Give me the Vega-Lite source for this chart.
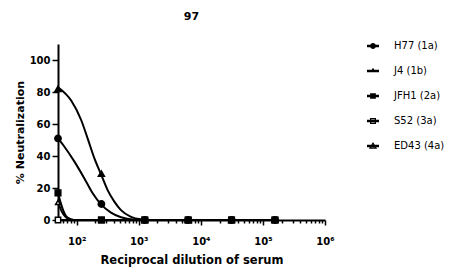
{
  "$schema": "https://vega.github.io/schema/vega-lite/v6.json",
  "autosize": {"type": "none"},
  "padding": {"left": 58, "top": 44, "right": 142, "bottom": 51},
  "width": 267,
  "height": 176,
  "title": {"text": "97", "font": "DejaVu Sans", "fontSize": 11, "fontWeight": "bold", "color": "#000", "anchor": "middle", "offset": 19},
  "config": {"view": {"stroke": null}, "font": "DejaVu Sans"},
  "datasets": {
    "curves": [
      {"series": "H77 (1a)", "dilution": 50, "value": 51},
      {"series": "H77 (1a)", "dilution": 63.5, "value": 45.8},
      {"series": "H77 (1a)", "dilution": 92, "value": 36.5},
      {"series": "H77 (1a)", "dilution": 133, "value": 26},
      {"series": "H77 (1a)", "dilution": 181, "value": 16.7},
      {"series": "H77 (1a)", "dilution": 247, "value": 9.8},
      {"series": "H77 (1a)", "dilution": 357, "value": 4.6},
      {"series": "H77 (1a)", "dilution": 517, "value": 1.7},
      {"series": "H77 (1a)", "dilution": 845, "value": 0.2},
      {"series": "H77 (1a)", "dilution": 1250, "value": 0},
      {"series": "H77 (1a)", "dilution": 156250, "value": 0},
      {"series": "J4 (1b)", "dilution": 50, "value": 83},
      {"series": "J4 (1b)", "dilution": 82, "value": 74.5},
      {"series": "J4 (1b)", "dilution": 118, "value": 62.5},
      {"series": "J4 (1b)", "dilution": 150, "value": 51},
      {"series": "J4 (1b)", "dilution": 193, "value": 38.5},
      {"series": "J4 (1b)", "dilution": 247, "value": 28.5},
      {"series": "J4 (1b)", "dilution": 315, "value": 18.7},
      {"series": "J4 (1b)", "dilution": 404, "value": 11.5},
      {"series": "J4 (1b)", "dilution": 517, "value": 6.2},
      {"series": "J4 (1b)", "dilution": 748, "value": 2},
      {"series": "J4 (1b)", "dilution": 1082, "value": 0.4},
      {"series": "J4 (1b)", "dilution": 1500, "value": 0},
      {"series": "J4 (1b)", "dilution": 156250, "value": 0},
      {"series": "JFH1 (2a)", "dilution": 50, "value": 17},
      {"series": "JFH1 (2a)", "dilution": 55, "value": 11},
      {"series": "JFH1 (2a)", "dilution": 60, "value": 6.5},
      {"series": "JFH1 (2a)", "dilution": 66, "value": 3},
      {"series": "JFH1 (2a)", "dilution": 75, "value": 1},
      {"series": "JFH1 (2a)", "dilution": 90, "value": 0},
      {"series": "JFH1 (2a)", "dilution": 156250, "value": 0},
      {"series": "ED43 (4a)", "dilution": 50, "value": 11},
      {"series": "ED43 (4a)", "dilution": 55, "value": 7},
      {"series": "ED43 (4a)", "dilution": 60, "value": 4},
      {"series": "ED43 (4a)", "dilution": 66, "value": 2},
      {"series": "ED43 (4a)", "dilution": 75, "value": 0.5},
      {"series": "ED43 (4a)", "dilution": 90, "value": 0},
      {"series": "ED43 (4a)", "dilution": 156250, "value": 0},
      {"series": "S52 (3a)", "dilution": 50, "value": 0},
      {"series": "S52 (3a)", "dilution": 156250, "value": 0}
    ],
    "points": [
      {"series": "S52 (3a)", "dilution": 50, "value": 0},
      {"series": "S52 (3a)", "dilution": 250, "value": 0},
      {"series": "S52 (3a)", "dilution": 1250, "value": 0},
      {"series": "S52 (3a)", "dilution": 6250, "value": 0},
      {"series": "S52 (3a)", "dilution": 31250, "value": 0},
      {"series": "S52 (3a)", "dilution": 156250, "value": 0},
      {"series": "ED43 (4a)", "dilution": 50, "value": 11},
      {"series": "ED43 (4a)", "dilution": 250, "value": 0},
      {"series": "ED43 (4a)", "dilution": 1250, "value": 0},
      {"series": "ED43 (4a)", "dilution": 6250, "value": 0},
      {"series": "ED43 (4a)", "dilution": 31250, "value": 0},
      {"series": "ED43 (4a)", "dilution": 156250, "value": 0},
      {"series": "H77 (1a)", "dilution": 50, "value": 51},
      {"series": "H77 (1a)", "dilution": 250, "value": 10},
      {"series": "H77 (1a)", "dilution": 1250, "value": 0},
      {"series": "H77 (1a)", "dilution": 6250, "value": 0},
      {"series": "H77 (1a)", "dilution": 31250, "value": 0},
      {"series": "H77 (1a)", "dilution": 156250, "value": 0},
      {"series": "J4 (1b)", "dilution": 50, "value": 82},
      {"series": "J4 (1b)", "dilution": 250, "value": 29},
      {"series": "J4 (1b)", "dilution": 1250, "value": 0},
      {"series": "J4 (1b)", "dilution": 6250, "value": 0},
      {"series": "J4 (1b)", "dilution": 31250, "value": 0},
      {"series": "J4 (1b)", "dilution": 156250, "value": 0},
      {"series": "JFH1 (2a)", "dilution": 50, "value": 17},
      {"series": "JFH1 (2a)", "dilution": 250, "value": 0},
      {"series": "JFH1 (2a)", "dilution": 1250, "value": 0},
      {"series": "JFH1 (2a)", "dilution": 6250, "value": 0},
      {"series": "JFH1 (2a)", "dilution": 31250, "value": 0},
      {"series": "JFH1 (2a)", "dilution": 156250, "value": 0}
    ]
  },
  "encoding": {
    "x": {
      "field": "dilution", "type": "quantitative",
      "scale": {"type": "log", "domain": [50, 1000000], "nice": false},
      "axis": {
        "title": "Reciprocal dilution of serum",
        "titleFont": "DejaVu Sans", "titleFontSize": 11.5, "titleFontWeight": "bold", "titleColor": "#000", "titlePadding": 8,
        "values": [60, 70, 80, 90, 100, 200, 300, 400, 500, 600, 700, 800, 900, 1000, 2000, 3000, 4000, 5000, 6000, 7000, 8000, 9000, 10000, 20000, 30000, 40000, 50000, 60000, 70000, 80000, 90000, 100000, 200000, 300000, 400000, 500000, 600000, 700000, 800000, 900000, 1000000],
        "labelExpr": "datum.value == 100 ? '10²' : datum.value == 1000 ? '10³' : datum.value == 10000 ? '10⁴' : datum.value == 100000 ? '10⁵' : datum.value == 1000000 ? '10⁶' : ''",
        "labelOverlap": false, "labelFlush": false,
        "labelFont": "DejaVu Sans", "labelFontSize": 10, "labelFontWeight": "bold", "labelColor": "#000", "labelPadding": 11,
        "tickSize": {"condition": {"test": "indexof([100,1000,10000,100000,1000000], datum.value) >= 0", "value": 5}, "value": 3},
        "tickColor": "#000", "tickWidth": 1.5, "domainColor": "#000", "domainWidth": 2, "grid": false
      }
    },
    "y": {
      "field": "value", "type": "quantitative",
      "scale": {"domain": [0, 110], "nice": false},
      "axis": {
        "title": "% Neutralization",
        "titleFont": "DejaVu Sans", "titleFontSize": 11, "titleFontWeight": "bold", "titleColor": "#000", "titlePadding": 4,
        "values": [0, 20, 40, 60, 80, 100],
        "labelFont": "DejaVu Sans", "labelFontSize": 10, "labelFontWeight": "bold", "labelColor": "#000", "labelPadding": 2,
        "tickSize": 6, "tickColor": "#000", "tickWidth": 1.5, "domainColor": "#000", "domainWidth": 2, "grid": false
      }
    }
  },
  "layer": [
    {
      "data": {"name": "curves"},
      "mark": {"type": "line", "color": "#000", "strokeWidth": 2, "interpolate": "monotone"},
      "encoding": {"detail": {"field": "series"}}
    },
    {
      "data": {"name": "points"},
      "mark": {"type": "point", "filled": false, "strokeWidth": 1.5, "stroke": "#000", "opacity": 1},
      "encoding": {
        "shape": {
          "field": "series", "type": "nominal",
          "scale": {"domain": ["H77 (1a)", "J4 (1b)", "JFH1 (2a)", "S52 (3a)", "ED43 (4a)"], "range": ["circle", "triangle-up", "square", "square", "triangle-up"]},
          "legend": null
        },
        "fill": {
          "field": "series", "type": "nominal",
          "scale": {"domain": ["H77 (1a)", "J4 (1b)", "JFH1 (2a)", "S52 (3a)", "ED43 (4a)"], "range": ["#000", "#000", "#000", "#fff", "#fff"]},
          "legend": null
        },
        "size": {
          "field": "series", "type": "nominal",
          "scale": {"domain": ["H77 (1a)", "J4 (1b)", "JFH1 (2a)", "S52 (3a)", "ED43 (4a)"], "range": [40, 24, 55, 40, 48]},
          "legend": null
        }
      }
    },
    {
      "data": {"name": "points"},
      "mark": {"type": "point", "filled": true, "color": "#000", "opacity": 0, "strokeWidth": 0},
      "encoding": {
        "shape": {
          "field": "series", "type": "nominal",
          "scale": {"domain": ["H77 (1a)", "J4 (1b)", "JFH1 (2a)", "S52 (3a)", "ED43 (4a)"],
            "range": [
              "M-2,-0.38H2V0.38H-2ZM1,0A1,1 0 1,1 -1,0A1,1 0 1,1 1,0Z",
              "M-2,-0.38H2V0.38H-2ZM0,-1.1L0.85,0.35H-0.85Z",
              "M-2,-0.38H2V0.38H-2ZM-0.95,-0.95H0.95V0.95H-0.95Z",
              "M-2,-0.38H2V0.38H-2ZM-1,-1H1V1H-1ZM-0.6,-0.6V0.6H0.6V-0.6Z",
              "M-2,-0.38H2V0.38H-2ZM0,-1.3L1.35,0.9H-1.35ZM0,-0.55L-0.65,0.5H0.65Z"
            ]},
          "legend": {
            "title": null, "orient": "none", "legendX": 310, "legendY": -3,
            "padding": 0, "symbolSize": 36, "symbolOpacity": 1, "symbolFillColor": "#000", "symbolStrokeWidth": 0,
            "labelFont": "DejaVu Sans", "labelFontSize": 10, "labelColor": "#000", "labelOffset": 16, "rowPadding": 15
          }
        }
      }
    }
  ],
  "resolve": {"scale": {"shape": "independent"}, "legend": {"shape": "independent"}}
}
